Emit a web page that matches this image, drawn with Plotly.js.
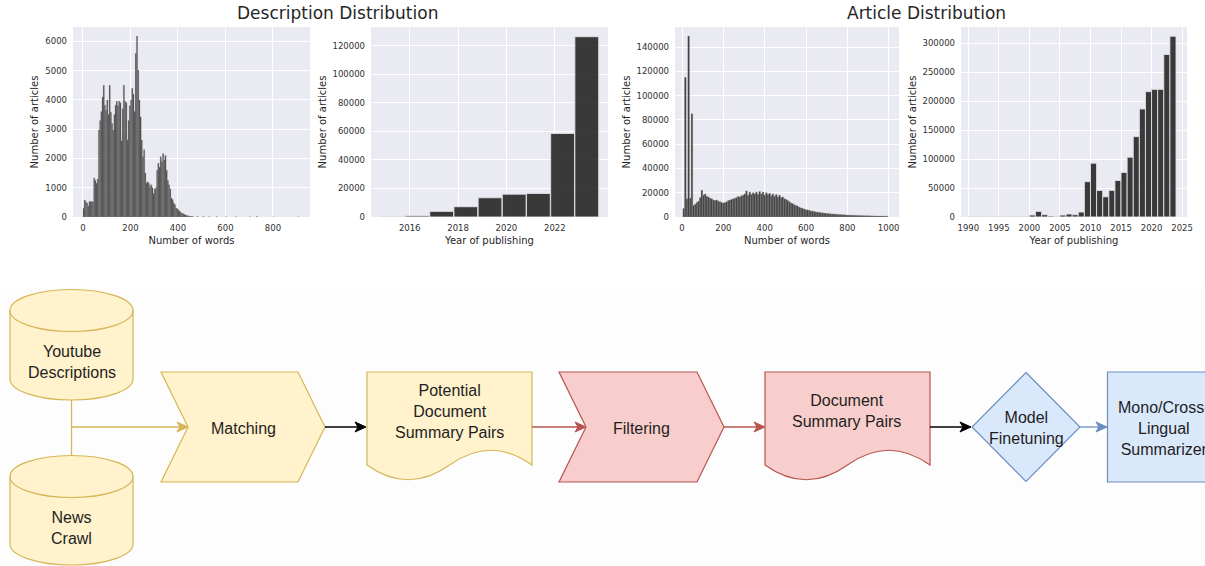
<!DOCTYPE html>
<html><head><meta charset="utf-8">
<script src="https://cdn.plot.ly/plotly-3.0.1.min.js"></script>
<style>html,body{margin:0;padding:0;background:#fff;}#chart{width:1205px;height:566px;}</style>
</head><body><div id="chart"></div>
<script>
// ---------- DATA ----------
// Description Distribution: number of words (bins of 5 words starting at 0)
const descWordBinWidth = 5;
const descWordCounts = [300,580,520,480,380,530,520,530,520,1330,
 1250,1150,1300,2970,3300,3600,4100,4500,3820,3650,
 4000,3500,4500,3580,3200,2970,3500,3820,3950,3800,
 3950,3900,2600,3700,4500,3950,3900,2630,3300,3800,
 4000,4400,4200,3600,5590,6180,5020,4000,3420,2630,
 2060,2300,1500,1160,1200,1150,1030,1100,1000,800,
 960,1000,1600,1840,1700,2060,1900,2170,1950,2100,
 1600,1250,1100,960,650,600,480,420,310,280,
 240,200,150,130,110,90,70,50,40,30,
 25,20,15];
const descWordTailBins = [480,505,530,560,600,640,700,730,800,905];
const descWordTailCounts = [20,15,10,12,8,10,6,15,5,5];
// Description Distribution: year of publishing
const descYears = [2015,2016,2017,2018,2019,2020,2021,2022,2023];
const descYearCounts = [60,800,3950,7200,13500,16000,16500,58600,126500];
// Article Distribution: number of words (bins of 8 words starting at 4)
const artWordBinStart = 4, artWordBinWidth = 8;
const artWordCounts = [7000,115000,15000,149000,15500,85000,9500,10500,12000,13000,
 16000,22000,18000,19000,17000,16500,15500,15000,14000,13500,
 14000,13000,12500,12000,11500,12000,12500,13500,14000,14500,
 15000,15500,16000,17000,16500,17500,18000,19000,21500,18000,
 20500,18500,20000,19000,20500,18500,21000,19000,20500,18000,
 20000,18500,19500,17500,19000,17000,18500,16500,18000,16000,
 16500,15000,14500,13500,12500,11500,11000,10000,9500,9000,
 8000,7500,7000,6500,6000,5800,5500,5000,4800,4500,
 4200,4000,3800,3600,3400,3200,3000,2900,2700,2600,
 2500,2400,2300,2200,2100,2000,1900,1800,1700,1650,
 1600,1500,1450,1400,1350,1300,1250,1200,1150,1100,
 1050,1000,980,950,920,900,880,850,820,800,
 780,750,720,700];
// Article Distribution: year of publishing
const artYears = [1990,1991,1992,1993,1994,1995,1996,1997,1998,1999,2000,2001,2002,2003,2004,2005,2006,2007,2008,2009,2010,2011,2012,2013,2014,2015,2016,2017,2018,2019,2020,2021,2022,2023];
const artYearCounts = [200,100,150,100,200,150,200,250,300,400,3400,9800,4000,1700,300,3400,5200,4000,8600,61000,93000,46000,35000,46000,63200,77000,103400,139000,186800,216700,220700,220700,281000,312600];

// tick labels
const descWordTicks = [0,200,400,600,800];
const descCountTicks = [0,1000,2000,3000,4000,5000,6000];
const descYearTicks = [2016,2018,2020,2022];
const descYearCountTicks = [0,20000,40000,60000,80000,100000,120000];
const artWordTicks = [0,200,400,600,800,1000];
const artCountTicks = [0,20000,40000,60000,80000,100000,120000,140000];
const artYearTicks = [1990,1995,2000,2005,2010,2015,2020,2025];
const artYearCountTicks = [0,50000,100000,150000,200000,250000,300000];

const panelTitles = ['Description Distribution','Article Distribution'];
const xTitles = ['Number of words','Year of publishing','Number of words','Year of publishing'];
const yTitle = 'Number of articles';

// Flowchart labels
const dbLabels = ['Youtube<br>Descriptions','News<br>Crawl'];
const stepLabels = ['Matching','Filtering'];
const docLabels = ['Potential<br>Document<br>Summary Pairs','Document<br>Summary Pairs'];
const decisionLabel = 'Model<br>Finetuning';
const outputLabel = 'Mono/Cross-<br>Lingual<br>Summarizer';

// ---------- FIGURE ----------
const W = 1205, H = 566;
const PX = x => x / W, PY = y => 1 - y / H;
const pt = (x, y) => PX(x).toFixed(5) + ',' + PY(y).toFixed(5);

const barColor = 'rgba(28,28,28,0.86)';
const traces = [
 {type:'bar', x: descWordCounts.map((_, i) => i * descWordBinWidth), y: descWordCounts, width: descWordBinWidth, offset: 0,
  xaxis:'x', yaxis:'y', marker:{color: barColor, line:{color:'rgba(150,150,150,0.7)', width:0.5}}, hoverinfo:'skip'},
 {type:'bar', x: descWordTailBins, y: descWordTailCounts, width: descWordBinWidth, offset: 0,
  xaxis:'x', yaxis:'y', marker:{color: barColor, line:{color:'rgba(150,150,150,0.7)', width:0.5}}, hoverinfo:'skip'},
 {type:'bar', x: descYears, y: descYearCounts, width: 0.985, offset: -0.17,
  xaxis:'x2', yaxis:'y2', marker:{color: barColor, line:{color:'rgba(225,225,232,0.9)', width:1}}, hoverinfo:'skip'},
 {type:'bar', x: artWordCounts.map((_, i) => artWordBinStart + i * artWordBinWidth), y: artWordCounts, width: artWordBinWidth, offset: 0,
  xaxis:'x3', yaxis:'y3', marker:{color: barColor, line:{color:'rgba(150,150,150,0.7)', width:0.5}}, hoverinfo:'skip'},
 {type:'bar', x: artYears, y: artYearCounts, width: 1, offset: 0,
  xaxis:'x4', yaxis:'y4', marker:{color: barColor, line:{color:'rgba(225,225,232,0.9)', width:1}}, hoverinfo:'skip'}
];

const tickFont = {family:'DejaVu Sans', size:8.5, color:'#303030'};
const titleFont = {family:'DejaVu Sans', size:10, color:'#262626'};
const yDom = [PY(217), PY(27)];
function xAx(l, r, range, ticks, title, anchor){
 return {domain:[PX(l), PX(r)], range, tickvals: ticks, ticktext: ticks.map(String), anchor,
  showgrid:true, gridcolor:'#ffffff', gridwidth:1, zeroline:false, showline:false, ticks:'',
  ticklabelstandoff:4, tickfont: tickFont, title:{text:title, font:titleFont, standoff:5}, fixedrange:true};
}
function yAx(range, ticks, anchor){
 return {domain: yDom, range, tickvals: ticks, ticktext: ticks.map(String), anchor,
  showgrid:true, gridcolor:'#ffffff', gridwidth:1, zeroline:false, showline:false, ticks:'',
  ticklabelstandoff:5, tickfont: tickFont, title:{text:yTitle, font:titleFont, standoff:4}, fixedrange:true};
}

// ---- flowchart shapes ----
const yel = {fill:'#FFF2CC', line:'#D6B656'}, red = {fill:'#F8CECC', line:'#B85450'}, blu = {fill:'#DAE8FC', line:'#6C8EBF'};
const shapes = [];
shapes.push({type:'rect', xref:'paper', yref:'paper', x0:0, x1:1, y0:0, y1:PY(287), fillcolor:'#fdfdfd', line:{width:0}, layer:'below'});
function pathShape(d, c, fill){
 shapes.push({type:'path', xref:'paper', yref:'paper', path:d, fillcolor: fill === false ? 'rgba(0,0,0,0)' : c.fill, line:{color:c.line, width:1.2}});
}
function cylinder(l, r, cyT, cyB, ry, c){
 const cx = (l + r) / 2, rx = (r - l) / 2, k = 0.5523;
 const d = 'M' + pt(l, cyT) + ' C' + pt(l, cyT - k*ry) + ' ' + pt(cx - k*rx, cyT - ry) + ' ' + pt(cx, cyT - ry) +
  ' C' + pt(cx + k*rx, cyT - ry) + ' ' + pt(r, cyT - k*ry) + ' ' + pt(r, cyT) +
  ' L' + pt(r, cyB) + ' C' + pt(r, cyB + k*ry) + ' ' + pt(cx + k*rx, cyB + ry) + ' ' + pt(cx, cyB + ry) +
  ' C' + pt(cx - k*rx, cyB + ry) + ' ' + pt(l, cyB + k*ry) + ' ' + pt(l, cyB) + ' Z';
 pathShape(d, c);
 const d2 = 'M' + pt(l, cyT) + ' C' + pt(l, cyT + k*ry) + ' ' + pt(cx - k*rx, cyT + ry) + ' ' + pt(cx, cyT + ry) +
  ' C' + pt(cx + k*rx, cyT + ry) + ' ' + pt(r, cyT + k*ry) + ' ' + pt(r, cyT);
 pathShape(d2, c, false);
}
function step(l, r, t, b, notch, c){
 const m = (t + b) / 2;
 pathShape('M' + pt(l, t) + ' L' + pt(r - notch, t) + ' L' + pt(r, m) + ' L' + pt(r - notch, b) + ' L' + pt(l, b) + ' L' + pt(l + notch, m) + ' Z', c);
}
function doc(l, r, t, yb, up, down, c){
 const w = r - l;
 pathShape('M' + pt(l, t) + ' L' + pt(r, t) + ' L' + pt(r, yb) + ' Q' + pt(l + 0.75*w, up) + ' ' + pt(l + 0.5*w, yb) +
  ' Q' + pt(l + 0.25*w, down) + ' ' + pt(l, yb) + ' Z', c);
}
function line(x0, y0, x1, y1, color){
 shapes.push({type:'line', xref:'paper', yref:'paper', x0:PX(x0), y0:PY(y0), x1:PX(x1), y1:PY(y1), line:{color, width:1.3}});
}
function arrow(x0, x1, y, color){
 line(x0, y, x1 - 6, y, color);
 shapes.push({type:'path', xref:'paper', yref:'paper', fillcolor:color, line:{color, width:1},
  path:'M' + pt(x1, y) + ' L' + pt(x1 - 11, y - 5) + ' L' + pt(x1 - 8, y) + ' L' + pt(x1 - 11, y + 5) + ' Z'});
}

cylinder(10, 133, 310.5, 379, 21, yel);
cylinder(10, 133, 476.5, 544, 21, yel);
line(71.5, 400, 71.5, 455.5, yel.line);
arrow(71.5, 188, 427, yel.line);
step(161, 325, 372, 482, 27, yel);
arrow(325, 366, 427, '#000000');
doc(367, 532, 372, 465, 435.5, 494.5, yel);
arrow(532, 586, 427, red.line);
step(559, 724, 372, 482, 27, red);
arrow(724, 765, 427, red.line);
doc(765, 930, 372, 465, 435.5, 494.5, red);
arrow(930, 971, 427, '#000000');
pathShape('M' + pt(1026, 372.5) + ' L' + pt(1080, 427) + ' L' + pt(1026, 481.5) + ' L' + pt(972, 427) + ' Z', blu);
arrow(1080, 1107, 427, blu.line);
shapes.push({type:'rect', xref:'paper', yref:'paper', x0:PX(1107.5), x1:PX(1222), y0:PY(482), y1:PY(372), fillcolor:blu.fill, line:{color:blu.line, width:1.2}});

// ---- annotations ----
const dFont = {family:'Liberation Sans, Arial, sans-serif', size:16, color:'#1e1e1e'};
function txt(x, y, text, font){
 return {xref:'paper', yref:'paper', x:PX(x), y:PY(y), text, showarrow:false, xanchor:'center', yanchor:'middle', font: font || dFont};
}
const annotations = [
 txt(337, 13, panelTitles[0], {family:'DejaVu Sans', size:17, color:'#262626'}),
 txt(926, 13, panelTitles[1], {family:'DejaVu Sans', size:17, color:'#262626'}),
 txt(71.5, 362, dbLabels[0]), txt(71.5, 528, dbLabels[1]),
 txt(243, 428, stepLabels[0]), txt(641, 428, stepLabels[1]),
 txt(449, 411, docLabels[0]), txt(847, 411.5, docLabels[1]),
 txt(1026, 427.5, decisionLabel), txt(1164, 428, outputLabel)
];

const layout = {
 width: W, height: H, margin:{l:0, r:0, t:0, b:0}, paper_bgcolor:'#ffffff', plot_bgcolor:'#EAEAF2',
 showlegend:false, barmode:'overlay', font:{family:'DejaVu Sans', color:'#262626'},
 xaxis: xAx(73, 310, [-42, 956], descWordTicks, xTitles[0], 'y'),
 yaxis: yAx([0, 6490], descCountTicks, 'x'),
 xaxis2: xAx(371, 608, [2014.4, 2024.2], descYearTicks, xTitles[1], 'y2'),
 yaxis2: yAx([0, 133300], descYearCountTicks, 'x2'),
 xaxis3: xAx(675, 899, [-34, 1050], artWordTicks, xTitles[2], 'y3'),
 yaxis3: yAx([0, 156500], artCountTicks, 'x3'),
 xaxis4: xAx(961, 1187, [1988.8, 2025.8], artYearTicks, xTitles[3], 'y4'),
 yaxis4: yAx([0, 328500], artYearCountTicks, 'x4'),
 shapes, annotations
};
Plotly.newPlot('chart', traces, layout, {staticPlot:true, displayModeBar:false});
</script></body></html>
